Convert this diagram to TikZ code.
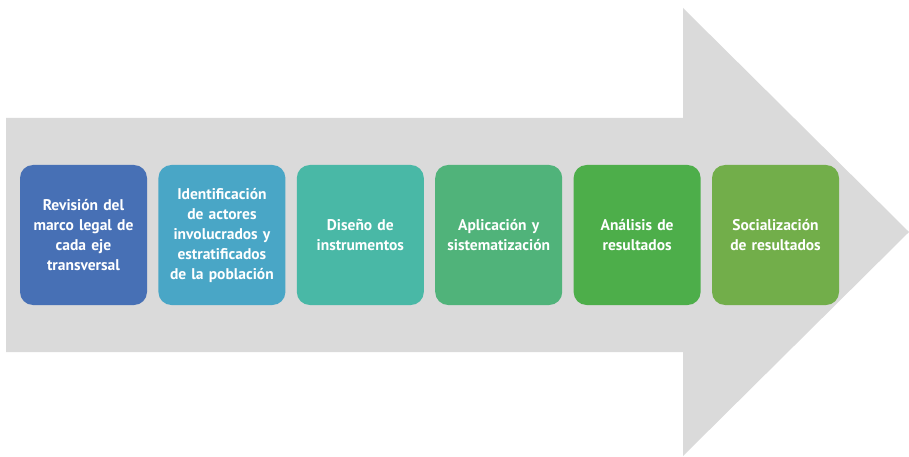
\documentclass[tikz,border=0pt]{standalone}
\usepackage{fontspec}
\setmainfont{PT Sans}
\usepackage{xcolor}
\usetikzlibrary{positioning}

\definecolor{arrowgray}{HTML}{DADADA}
\definecolor{stepone}{HTML}{4770B5}
\definecolor{steptwo}{HTML}{49A6C6}
\definecolor{stepthree}{HTML}{49B8A6}
\definecolor{stepfour}{HTML}{50B37A}
\definecolor{stepfive}{HTML}{4DAE4A}
\definecolor{stepsix}{HTML}{72AE4A}

\begin{document}
\begin{tikzpicture}[x=1pt, y=-1pt,
    stagebox/.style={rounded corners=13pt, minimum width=127pt, minimum height=140pt,
        text width=124pt, align=center, inner sep=0pt, outer sep=0pt, text=white,
        font=\fontsize{15.5}{20}\selectfont\bfseries},
    node distance=11.4pt]
        \useasboundingbox (0,0) rectangle (909,457);

        % Big arrow
        \fill[arrowgray] (6,118) -- (683,118) -- (683,8) -- (909,232)
            -- (683,456) -- (683,352) -- (6,352) -- cycle;

        % Stages
        \node[stagebox, fill=stepone] (revision) at (83.5,235)
            {Revisión del\\marco legal de\\cada eje\\transversal};
        \node[stagebox, fill=steptwo, right=of revision] (actores)
            {Identificación\\de actores\\involucrados y\\estratificados\\de la población};
        \node[stagebox, fill=stepthree, right=of actores] (diseno)
            {Diseño de\\instrumentos};
        \node[stagebox, fill=stepfour, right=of diseno] (aplicacion)
            {Aplicación y\\sistematización};
        \node[stagebox, fill=stepfive, right=of aplicacion] (analisis)
            {Análisis de\\resultados};
        \node[stagebox, fill=stepsix, right=of analisis] (socializacion)
            {Socialización\\de resultados};
    \end{tikzpicture}
\end{document}
